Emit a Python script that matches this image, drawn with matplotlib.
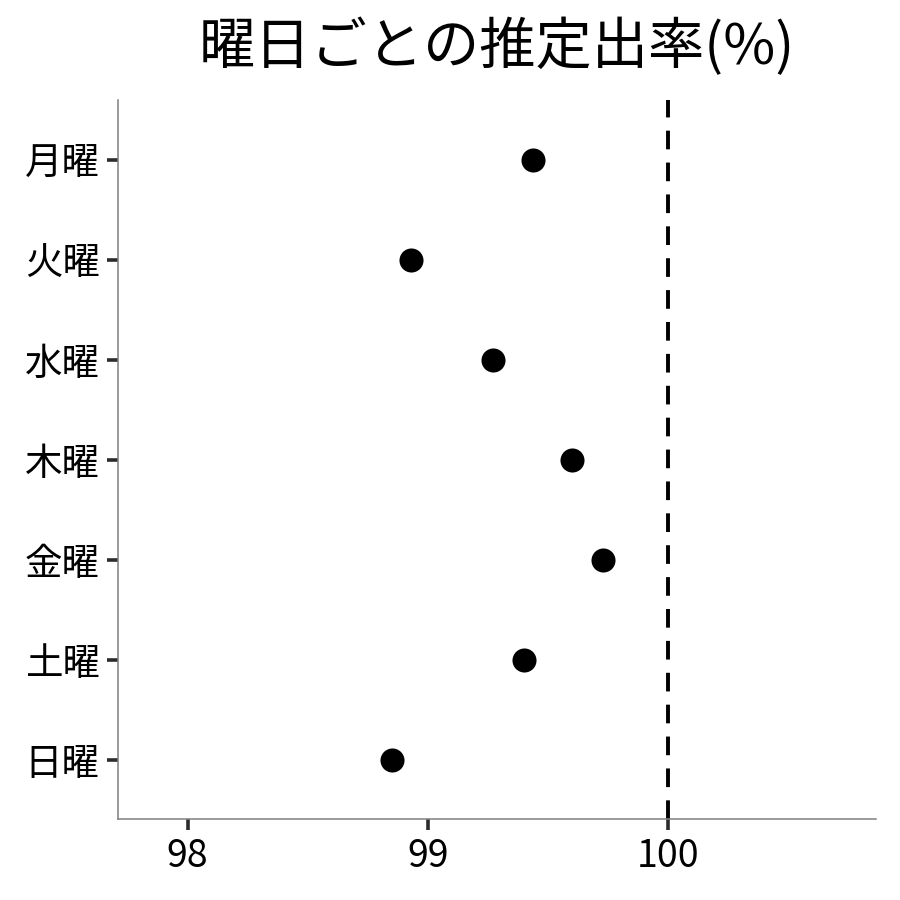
import matplotlib
matplotlib.use('Agg')
import matplotlib.pyplot as plt

plt.rcParams['font.family'] = ['Noto Sans CJK JP', 'DejaVu Sans']

days = ['月曜', '火曜', '水曜', '木曜', '金曜', '土曜', '日曜']
rates = [99.44, 98.93, 99.27, 99.60, 99.73, 99.40, 98.85]
xticks = [98, 99, 100]
ref_line = 100

fig = plt.figure(figsize=(9, 9), dpi=100)
ax = fig.add_axes([0.131, 0.09, 0.842, 0.799])

ypos = list(range(len(days)))
ax.scatter(rates, ypos, s=300, color='black', linewidths=0, zorder=3)
ax.axvline(ref_line, color='black', linewidth=2.8, linestyle=(0, (4.8, 3.4)), zorder=2)

ax.set_yticks(ypos)
ax.set_yticklabels(days)
ax.set_xticks(xticks)
ax.set_xlim(97.71, 100.865)
ax.set_ylim(6.59, -0.6)

for side in ['top', 'right']:
    ax.spines[side].set_visible(False)
for side in ['left', 'bottom']:
    ax.spines[side].set_color('#7f7f7f')
    ax.spines[side].set_linewidth(1.1)

ax.tick_params(axis='both', length=8, width=2.6, color='#2b2b2b', labelsize=27, pad=5)

ax.set_title('曜日ごとの推定出率(%)', fontsize=40.5, pad=26)

plt.savefig('out.png', dpi=100)
